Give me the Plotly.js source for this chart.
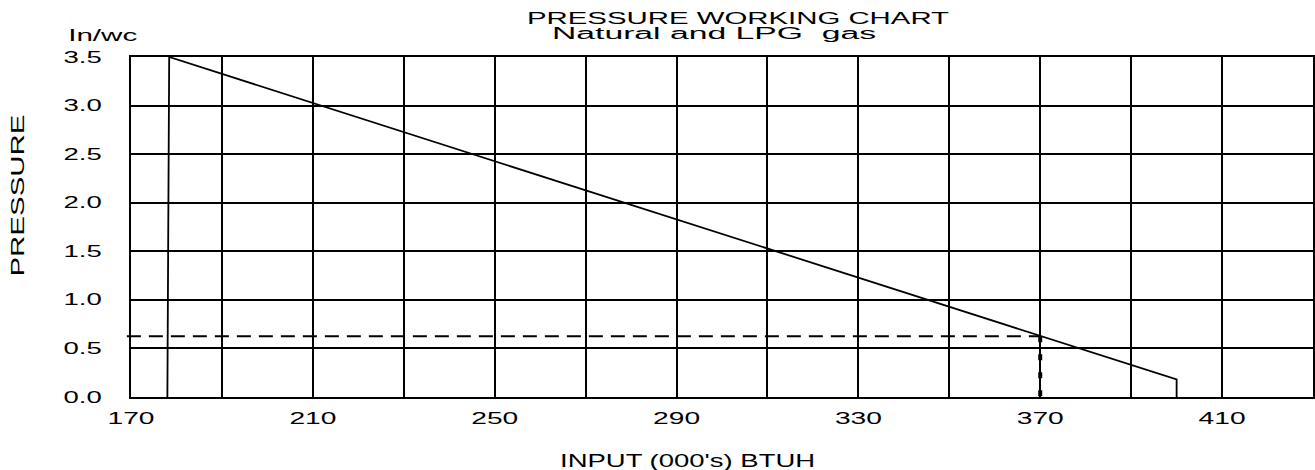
<!DOCTYPE html>
<html><head><meta charset="utf-8">
<script src="https://cdn.plot.ly/plotly-3.0.1.min.js"></script>
<style>html,body{margin:0;padding:0;background:#fff;} #chart{width:1315px;height:470px;}</style>
</head><body><div id="chart"></div>
<script>
// ---- data ----
const curveInput = [178, 178.4, 400, 400];
const curvePressure = [0, 3.5, 0.18, 0];
const workInput = 370;
const workPressure = 0.625;
const xTickVals = [170, 210, 250, 290, 330, 370, 410];
const xTickText = ['170', '210', '250', '290', '330', '370', '410'];
const yTickVals = [0, 0.5, 1, 1.5, 2, 2.5, 3, 3.5];
const yTickText = ['0.0', '0.5', '1.0', '1.5', '2.0', '2.5', '3.0', '3.5'];
const chartTitle = 'PRESSURE WORKING CHART';
const chartSubtitle = 'Natural and LPG  gas';
const unitLabel = 'In/wc';
const xLabel = "INPUT (000's) BTUH";
const yLabel = 'PRESSURE';

const FONT = 'Liberation Sans, Arial, sans-serif';
const xMin = 170, xMax = 430;

const traces = [
  {x: curveInput, y: curvePressure, mode: 'lines', line: {color: '#000', width: 1.8}, hoverinfo: 'skip', showlegend: false},
  {x: [workInput, workInput], y: [workPressure, 0], mode: 'lines', line: {color: '#000', width: 4, dash: '6px,12px'}, hoverinfo: 'skip', showlegend: false}
];

const layout = {
  width: 1315, height: 470,
  margin: {l: 131, r: 2, t: 57, b: 73},
  paper_bgcolor: '#fff', plot_bgcolor: '#fff',
  font: {family: FONT, size: 16, color: '#000'},
  showlegend: false,
  xaxis: {
    range: [xMin, xMax], tickmode: 'array', tickvals: xTickVals, ticktext: xTickText,
    showgrid: true, gridcolor: '#000', gridwidth: 2,
    minor: {dtick: 20, tick0: 170, showgrid: true, gridcolor: '#000', gridwidth: 2},
    showline: true, linecolor: '#000', linewidth: 2, mirror: true,
    ticks: '', zeroline: false, ticklabelstandoff: 6,
    tickfont: {family: FONT, size: 16, color: '#000'}
  },
  yaxis: {
    range: [0, 3.5], tickmode: 'array', tickvals: yTickVals, ticktext: yTickText,
    showgrid: true, gridcolor: '#000', gridwidth: 2,
    showline: true, linecolor: '#000', linewidth: 2, mirror: true,
    ticks: '', zeroline: false, ticklabelstandoff: 24,
    tickfont: {family: FONT, size: 16, color: '#000'}
  },
  shapes: [
    {type: 'line', xref: 'paper', yref: 'y', x0: -0.0035, x1: (workInput - xMin) / (xMax - xMin), y0: workPressure, y1: workPressure,
     line: {color: '#000', width: 2, dash: '14px,8px'}, layer: 'above'}
  ],
  annotations: [
    {text: chartTitle + '<br>' + chartSubtitle, xref: 'paper', yref: 'paper', x: 0.5135, y: 1.117, xanchor: 'center', yanchor: 'middle', showarrow: false, font: {family: FONT, size: 16, color: '#000'}},
    {text: unitLabel, xref: 'paper', yref: 'paper', x: -0.0245, y: 1.063, xanchor: 'center', yanchor: 'middle', showarrow: false, font: {family: FONT, size: 16, color: '#000'}},
    {text: xLabel, xref: 'paper', yref: 'paper', x: 0.4704, y: -0.189, xanchor: 'center', yanchor: 'middle', showarrow: false, font: {family: FONT, size: 18, color: '#000'}},
    {text: yLabel, xref: 'paper', yref: 'paper', x: -0.0956, y: 0.591, xanchor: 'center', yanchor: 'middle', textangle: -90, showarrow: false, font: {family: FONT, size: 18, color: '#000'}}
  ]
};

function stretchTo(el, target) {
  el.setAttribute('textLength', target);
  el.setAttribute('lengthAdjust', 'spacingAndGlyphs');
}

Plotly.newPlot('chart', traces, layout, {staticPlot: true, responsive: false}).then(function (gd) {
  gd.querySelectorAll('.xtick text').forEach(function (t) { stretchTo(t, t.getComputedTextLength() * 1.76); });
  gd.querySelectorAll('.ytick text').forEach(function (t) { stretchTo(t, t.getComputedTextLength() * 1.72); });
  const targets = {};
  targets[unitLabel] = 69; targets[xLabel] = 255; targets[yLabel] = 162;
  gd.querySelectorAll('text.annotation-text').forEach(function (t) {
    const k = t.textContent;
    if (targets[k]) { stretchTo(t, targets[k]); return; }
    const lines = t.querySelectorAll('tspan.line');
    if (lines.length === 2) {
      // first line: title, second line: subtitle (tight spacing, shifted left as in the original)
      stretchTo(lines[0], 422);
      stretchTo(lines[1], 324);
      const y0 = parseFloat(lines[0].getAttribute('y') || t.getAttribute('y') || '0');
      lines[0].setAttribute('dy', '0px');
      lines[0].setAttribute('y', y0 + 12);
      lines[1].setAttribute('y', y0 + 12);
      lines[1].setAttribute('dy', '14.5px');
      const x1 = parseFloat(lines[1].getAttribute('x') || t.getAttribute('x') || '0');
      lines[1].setAttribute('x', x1 - 24);
    }
  });
});
</script>
</body></html>
